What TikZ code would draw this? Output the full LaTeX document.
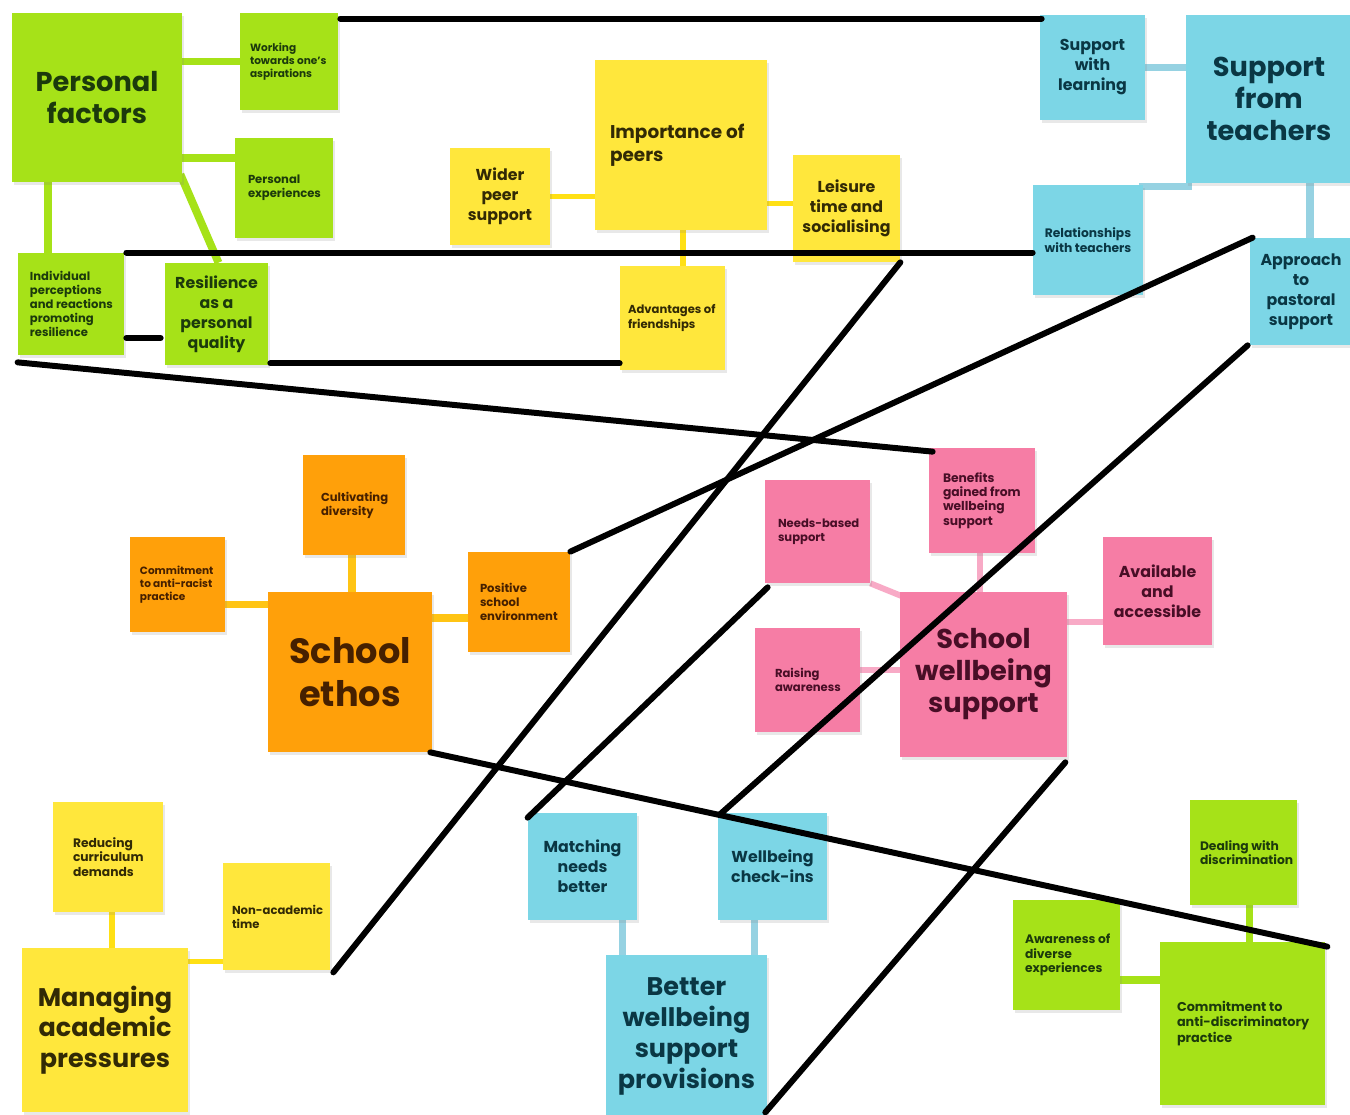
\documentclass[tikz,border=0pt]{standalone}
\usepackage{fontspec}
\setmainfont{Poppins}
\usetikzlibrary{backgrounds,shadows}

\definecolor{boxgreen}{RGB}{166,226,24}
\definecolor{boxyellow}{RGB}{255,231,60}
\definecolor{boxblue}{RGB}{124,214,230}
\definecolor{boxorange}{RGB}{255,160,10}
\definecolor{boxpink}{RGB}{246,125,165}
\definecolor{lineyellow}{RGB}{255,224,20}
\definecolor{lineorange}{RGB}{255,196,20}
\definecolor{linepink}{RGB}{248,170,198}
\definecolor{lineblue}{RGB}{150,210,226}
\definecolor{txtgreen}{RGB}{28,58,12}
\definecolor{txtyellow}{RGB}{50,42,5}
\definecolor{txtblue}{RGB}{10,55,68}
\definecolor{txtorange}{RGB}{70,32,0}
\definecolor{txtpink}{RGB}{72,14,38}

\newcommand{\fsHuge}{\fontsize{20}{24.5}\selectfont}
\newcommand{\fsBigger}{\fontsize{15.5}{18.2}\selectfont}
\newcommand{\fsBig}{\fontsize{14.5}{17.5}\selectfont}
\newcommand{\fsImp}{\fontsize{10.5}{13}\selectfont}
\newcommand{\fsMid}{\fontsize{9}{11.4}\selectfont}
\newcommand{\fsSmall}{\fontsize{6.6}{8}\selectfont}
\newcommand{\fsTiny}{\fontsize{6}{7.5}\selectfont}
\newcommand{\fsNote}{\fontsize{7}{8.2}\selectfont}

\begin{document}
\begin{tikzpicture}[x=0.02cm,y=-0.02cm]
        \tikzset{wh/.style 2 args={minimum width=#1*0.02cm, minimum height=#2*0.02cm},
                 lt/.style 2 args={text width=(#1-2)*0.02cm, inner xsep=0.02cm, align=none,
                        execute at begin node={\pgfmathsetlength{\leftskip}{(#2-1)*0.02cm}}}}
        \tikzstyle{box}=[inner sep=0pt, font=\bfseries\fsSmall, align=center,
                drop shadow={shadow xshift=1pt, shadow yshift=-1.5pt, opacity=0.18}]
        \tikzstyle{green box}=[box, fill=boxgreen, text=txtgreen]
        \tikzstyle{yellow box}=[box, fill=boxyellow, text=txtyellow]
        \tikzstyle{blue box}=[box, fill=boxblue, text=txtblue]
        \tikzstyle{orange box}=[box, fill=boxorange, text=txtorange]
        \tikzstyle{pink box}=[box, fill=boxpink, text=txtpink]
        \tikzstyle{green line}=[boxgreen, line width=4.5pt]
        \tikzstyle{yellow line}=[lineyellow, line width=3.4pt]
        \tikzstyle{blue line}=[lineblue, line width=4pt]
        \tikzstyle{orange line}=[lineorange, line width=4pt]
        \tikzstyle{pink line}=[linepink, line width=3.4pt]
        \tikzstyle{link}=[black, line width=3.4pt, line cap=round]

        \useasboundingbox (0,0) rectangle (1350,1115);

        % personal factors
        \node[green box, wh={170}{169}, font=\bfseries\fsBigger] (pf) at (97,97.5) {Personal\\factors};
        \node[green box, wh={98}{97}, lt={98}{10}, font=\bfseries\fsTiny] (wta) at (289,61.5) {Working\\towards one's\\aspirations};
        \node[green box, wh={98}{100}, lt={98}{13}] (pex) at (284,188) {Personal\\experiences};
        \node[green box, wh={106}{102}, lt={106}{12}] (ipr) at (71,304) {Individual\\perceptions\\and reactions\\promoting\\resilience};
        \node[green box, wh={103}{102}, font=\bfseries\fsMid] (res) at (216.5,314) {Resilience\\as a\\personal\\quality};

        % peers
        \node[yellow box, wh={100}{97}, font=\bfseries\fsMid] (wps) at (500,196.5) {Wider\\peer\\support};
        \node[yellow box, wh={172}{170}, lt={172}{15}, font=\bfseries\fsImp] (imp) at (681,145) {Importance of\\peers};
        \node[yellow box, wh={107}{107}, font=\bfseries\fsMid] (lst) at (846.5,208.5) {Leisure\\time and\\socialising};
        \node[yellow box, wh={105}{104}, lt={105}{8}] (adv) at (672.5,318) {Advantages of\\friendships};

        % teachers
        \node[blue box, wh={105}{105}, font=\bfseries\fsMid] (swl) at (1092.5,67.5) {Support\\with\\learning};
        \node[blue box, wh={166}{168}, font=\bfseries\fsBigger] (sft) at (1269,99) {Support\\from\\teachers};
        \node[blue box, wh={110}{110}, font=\bfseries\fsNote] (rwt) at (1088,240) {Relationships\\with teachers};
        \node[blue box, wh={102}{107}, font=\bfseries\fsMid] (app) at (1301,291.5) {Approach\\to\\pastoral\\support};

        % school ethos
        \node[orange box, wh={102}{100}, lt={102}{18}] (cdv) at (354,505) {Cultivating\\diversity};
        \node[orange box, wh={95}{95}, lt={95}{10}, font=\bfseries\fsTiny] (car) at (177.5,584.5) {Commitment\\to anti-racist\\practice};
        \node[orange box, wh={164}{160}, font=\bfseries\fsHuge] (eth) at (350,672) {School\\ethos};
        \node[orange box, wh={102}{100}, lt={102}{12}] (pse) at (519,602) {Positive\\school\\environment};

        % wellbeing support
        \node[pink box, wh={105}{103}, lt={105}{13}] (nbs) at (817.5,531.5) {Needs-based\\support};
        \node[pink box, wh={106}{105}, lt={106}{14}, font=\bfseries\fsNote] (ben) at (982,500.5) {Benefits\\gained from\\wellbeing\\support};
        \node[pink box, wh={109}{108}, font=\bfseries\fsMid] (ava) at (1157.5,591) {Available\\and\\accessible};
        \node[pink box, wh={105}{104}, lt={105}{20}] (rai) at (807.5,680) {Raising\\awareness};
        \node[pink box, wh={167}{165}, font=\bfseries\fsBigger] (sws) at (983.5,674.5) {School\\wellbeing\\support};

        % academic pressures
        \node[yellow box, wh={110}{110}, lt={110}{20}, font=\bfseries\fsNote] (rcd) at (108,857) {Reducing\\curriculum\\demands};
        \node[yellow box, wh={107}{107}, lt={107}{9}] (nat) at (276.5,916.5) {Non-academic\\time};
        \node[yellow box, wh={166}{164}, font=\bfseries\fsBig] (map) at (105,1030) {Managing\\academic\\pressures};

        % provisions
        \node[blue box, wh={109}{107}, font=\bfseries\fsMid] (mnb) at (582.5,866.5) {Matching\\needs\\better};
        \node[blue box, wh={109}{107}, font=\bfseries\fsMid] (wci) at (772.5,866.5) {Wellbeing\\check-ins};
        \node[blue box, wh={161}{163}, font=\bfseries\fsBig] (bws) at (686.5,1036.5) {Better\\wellbeing\\support\\provisions};

        % anti-discrimination
        \node[green box, wh={107}{105}, lt={107}{10}, font=\bfseries\fsNote] (dwd) at (1243.5,852.5) {Dealing with\\discrimination};
        \node[green box, wh={107}{110}, lt={107}{12}, font=\bfseries\fsNote] (ade) at (1066.5,955) {Awareness of\\diverse\\experiences};
        \node[green box, wh={165}{163}, lt={165}{17}, font=\bfseries\fontsize{7.3}{9}\selectfont] (cad) at (1242.5,1023.5) {Commitment to\\anti-discriminatory\\practice};

        \begin{scope}[on background layer]
        \fill[white] (0,0) rectangle (1350,1115);
        \draw[green line] (wta.west) -- (wta.west -| pf.east);
        \draw[green line] ([shift={(0,-30)}]pex.west) -- ([shift={(0,-30)}]pex.west -| pf.east);
        \draw[green line] ([shift={(-23,0)}]ipr.north) -- ([shift={(-23,0)}]ipr.north |- pf.south);
        \draw[green line] ([shift={(-2,-8)}]pf.south east) -- ([shift={(2,0)}]res.north);
        \draw[yellow line] (wps.east) -- (wps.east -| imp.west);
        \draw[yellow line] ([shift={(0,-5)}]lst.west) -- ([shift={(0,-5)}]lst.west -| imp.east);
        \draw[yellow line] ([shift={(2,0)}]imp.south) -- ([shift={(2,0)}]imp.south |- adv.north);
        \draw[blue line] (swl.east) -- (swl.east -| sft.west);
        \draw[blue line] ([shift={(-4,2)}]rwt.north east) -- ([shift={(6,2)}]rwt.north east -| sft.west);
        \draw[blue line] ([shift={(9,0)}]app.north) -- ([shift={(9,0)}]app.north |- sft.south);
        \draw[orange line] ([shift={(0,20)}]car.east) -- ([shift={(0,20)}]car.east -| eth.west);
        \draw[orange line] ([shift={(-2,0)}]cdv.south) -- ([shift={(-2,0)}]cdv.south |- eth.north);
        \draw[orange line] ([shift={(0,16)}]pse.west) -- ([shift={(0,16)}]pse.west -| eth.east);
        \draw[pink line] (nbs.south east) -- ([shift={(6,6)}]sws.north west);
        \draw[pink line] ([shift={(-2,0)}]ben.south) -- ([shift={(-2,0)}]ben.south |- sws.north);
        \draw[pink line] ([shift={(0,31)}]ava.west) -- ([shift={(0,31)}]ava.west -| sws.east);
        \draw[pink line] ([shift={(0,-10)}]rai.east) -- ([shift={(0,-10)}]rai.east -| sws.west);
        \draw[yellow line] ([shift={(4,0)}]rcd.south) -- ([shift={(4,0)}]rcd.south |- map.north);
        \draw[yellow line] ([shift={(0,45)}]nat.west) -- ([shift={(0,45)}]nat.west -| map.east);
        \draw[blue line] ([shift={(40,0)}]mnb.south) -- ([shift={(40,0)}]mnb.south |- bws.north);
        \draw[blue line] ([shift={(-18,0)}]wci.south) -- ([shift={(-18,0)}]wci.south |- bws.north);
        \draw[green line] ([shift={(6,0)}]dwd.south) -- ([shift={(6,0)}]dwd.south |- cad.north);
        \draw[green line] ([shift={(0,25)}]ade.east) -- ([shift={(0,25)}]ade.east -| cad.west);
        \end{scope}

        % links between themes
        \draw[link] ([shift={(2,6)}]wta.north east) -- ([shift={(2,4)}]swl.north west);
        \draw[link] ([shift={(2,0)}]ipr.north east) -- (ipr.north east -| rwt.west);
        \draw[link] ([shift={(2,34)}]ipr.east) -- ([shift={(-4,24)}]res.west);
        \draw[link] ([shift={(2,-2)}]res.south east) -- ([shift={(0,-2)}]res.south east -| adv.west);
        \draw[link] ([shift={(0,7)}]ipr.south west) -- ([shift={(4,4)}]ben.north west);
        \draw[link] (lst.south east) -- ([shift={(3,2)}]nat.south east);
        \draw[link] ([shift={(3,0)}]app.north west) -- (pse.north east);
        \draw[link] ([shift={(-2,0)}]app.south west) -- ([shift={(2,2)}]wci.north west);
        \draw[link] ([shift={(3,4)}]nbs.south west) -- ([shift={(0,5)}]mnb.north west);
        \draw[link] ([shift={(-2,0)}]eth.south east) -- ([shift={(2,5)}]cad.north east);
        \draw[link] ([shift={(-2,5)}]sws.south east) -- ([shift={(-2,-6)}]bws.south east);
    \end{tikzpicture}
\end{document}
